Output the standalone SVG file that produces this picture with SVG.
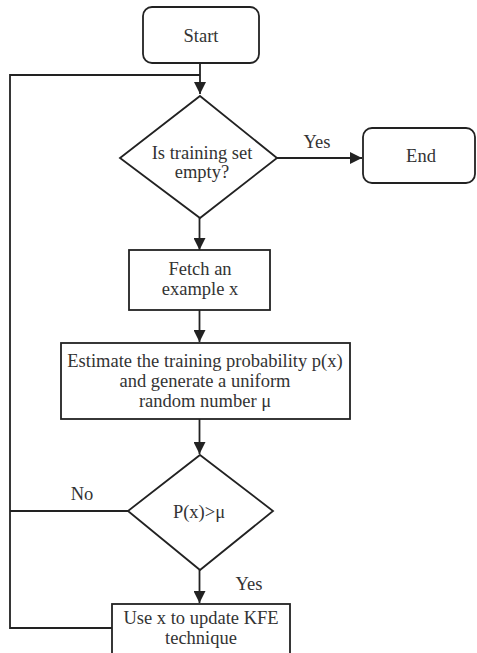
<svg xmlns="http://www.w3.org/2000/svg" width="477" height="653" viewBox="0 0 477 653">
  <style>
    .shape { fill: #ffffff; stroke: #222222; stroke-width: 1.8; }
    .wire { fill: none; stroke: #222222; stroke-width: 1.8; }
    text { font-family: "Liberation Serif", "Times New Roman", serif; font-size: 18.5px; fill: #333333; text-anchor: middle; }
  </style>
  <defs>
    <marker id="arrow" viewBox="0 0 12 12" refX="12" refY="6" markerWidth="12" markerHeight="12" markerUnits="userSpaceOnUse" orient="auto">
      <path d="M0,0 L12,6 L0,12 Z" fill="#222222"/>
    </marker>
  </defs>
  <rect width="477" height="653" fill="#ffffff"/>

  <g id="connectors">
    <!-- Start to first decision -->
    <path class="wire" d="M200,63 V94" marker-end="url(#arrow)"/>
    <!-- loop back from update step to first decision -->
    <path class="wire" d="M112,628 H10 V75 H200"/>
    <!-- No branch joins the loop -->
    <path class="wire" d="M128,511 H10"/>
    <!-- Yes to End -->
    <path class="wire" d="M277,158 H362" marker-end="url(#arrow)"/>
    <!-- decision to fetch -->
    <path class="wire" d="M199.5,218 V250" marker-end="url(#arrow)"/>
    <!-- fetch to estimate -->
    <path class="wire" d="M199.5,310 V342" marker-end="url(#arrow)"/>
    <!-- estimate to second decision -->
    <path class="wire" d="M199.5,419 V454" marker-end="url(#arrow)"/>
    <!-- second decision Yes to update -->
    <path class="wire" d="M199.5,570 V603" marker-end="url(#arrow)"/>
    <text x="317" y="148">Yes</text>
    <text x="82" y="500">No</text>
    <text x="249" y="590">Yes</text>
  </g>

  <g id="start">
    <rect class="shape" x="143" y="7" width="116" height="56" rx="9"/>
    <text x="201" y="42">Start</text>
  </g>

  <g id="decision-empty">
    <polygon class="shape" points="200,96 277,158 200,218 120,158"/>
    <text x="202" y="159">Is training set</text>
    <text x="202" y="178">empty?</text>
  </g>

  <g id="end">
    <rect class="shape" x="363" y="128" width="112" height="55" rx="9"/>
    <text x="421" y="162">End</text>
  </g>

  <g id="fetch">
    <rect class="shape" x="129" y="250" width="141" height="60"/>
    <text x="200" y="275">Fetch an</text>
    <text x="200" y="295">example x</text>
  </g>

  <g id="estimate">
    <rect class="shape" x="61" y="343" width="289" height="76"/>
    <text x="205" y="367">Estimate the training probability p(x)</text>
    <text x="205" y="387">and generate a uniform</text>
    <text x="205" y="407">random number μ</text>
  </g>

  <g id="decision-probability">
    <polygon class="shape" points="200,455 273,511 200,570 128,511"/>
    <text x="199" y="518">P(x)&gt;μ</text>
  </g>

  <g id="update">
    <rect class="shape" x="112" y="604" width="178" height="60"/>
    <text x="201" y="624">Use x to update KFE</text>
    <text x="201" y="644">technique</text>
  </g>
</svg>
